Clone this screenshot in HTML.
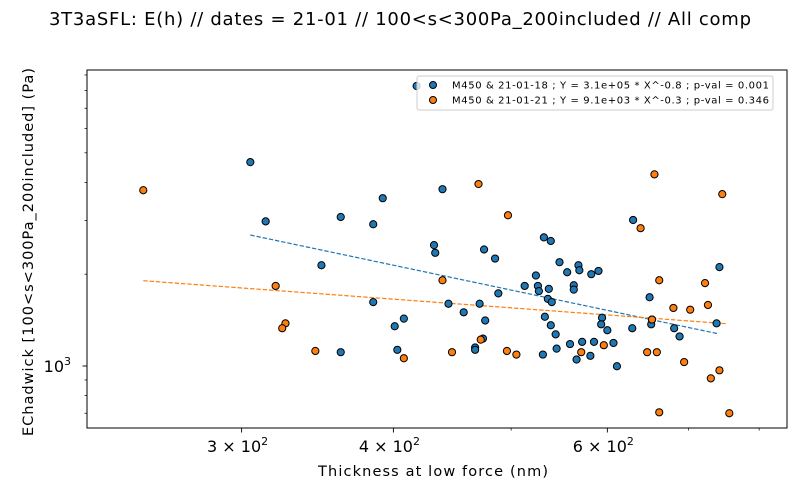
<!DOCTYPE html>
<html><head><meta charset="utf-8"><style>
body{margin:0;background:#fff}
svg{display:block;font-family:"DejaVu Sans","Liberation Sans",sans-serif}
</style></head><body>
<svg id="chart" width="800" height="500">
<rect width="800" height="500" fill="#fff"/>
<text x="400" y="25" text-anchor="middle" font-size="18" textLength="702">3T3aSFL: E(h) // dates = 21-01 // 100&lt;s&lt;300Pa_200included // All comp</text>
<g id="plot"></g>
<text x="433" y="476" text-anchor="middle" font-size="14.5" textLength="230">Thickness at low force (nm)</text>
<text transform="translate(33,252) rotate(-90)" text-anchor="middle" font-size="14.5" textLength="368">EChadwick [100&lt;s&lt;300Pa_200included]  (Pa)</text>
<g>
<rect x="417" y="76" width="356" height="34" rx="2" fill="#fff" fill-opacity="0.8" stroke="#ccc" stroke-width="1"/>
<circle cx="433" cy="85" r="3.5" fill="#1f77b4" stroke="#000" stroke-width="1"/>
<text x="452" y="88.5" font-size="10" textLength="317">M450 &amp; 21-01-18 ; Y = 3.1e+05 * X^-0.8 ; p-val = 0.001</text>
<circle cx="433" cy="100" r="3.5" fill="#ff7f0e" stroke="#000" stroke-width="1"/>
<text x="452" y="103.5" font-size="10" textLength="317">M450 &amp; 21-01-21 ; Y = 9.1e+03 * X^-0.3 ; p-val = 0.346</text>
</g>
</svg>
<script>
const blueX=[418,305,314,362,392,385,432,433,349,385,408,401,362,403,439,475,485,532,539,548,556,568,569,582,590,524,513,526,527,537,563,563,488,536,540,444,471,457,476,533,539,544,594,593,600,467,467,545,559,572,585,531,566,581,474,630,742,650,629,653,652,681,688,738,607,611];
const blueY=[8280,4660,2980,3080,3550,2915,2490,2350,2140,1620,1430,1350,1110,1130,3800,2410,2250,2640,2570,2190,2030,2140,2060,2000,2050,1980,1830,1830,1760,1790,1840,1780,1730,1660,1620,1600,1600,1500,1410,1450,1360,1270,1440,1370,1310,1150,1130,1140,1180,1200,1200,1090,1050,1080,1230,3010,2110,1680,1330,1420,1370,1330,1250,1380,1190,998];
const orangeX=[249,320,326,324,345,408,470,497,439,472,447,496,505,571,596,656,746,639,662,722,680,702,726,647,659,694,742,730,662,756,653];
const orangeY=[3770,1830,1380,1330,1120,1060,3950,3120,1910,1220,1110,1120,1090,1110,1170,4250,3660,2830,1910,1870,1550,1530,1585,1110,1110,1030,968,911,705,700,1420];
const blueFitX=[305,740];
const blueFitY=[2688,1276];
const orangeFitX=[249,752];
const orangeFitY=[1904,1376];
const xMajor=[300,400,600];
const xMajorLabels=["3","4","6"];
const xMinor=[500,700,800];
const yMajor=[1000];
const yMinor=[700,800,900,2000,3000,4000,5000,6000,7000,8000,9000];

const L=87,R=787,T=70,B=428;
function sx(v){return 241.6+1215*Math.log10(v/300);}
function sy(v){return 366-305*Math.log10(v/1000);}
const NS="http://www.w3.org/2000/svg";
const g=document.getElementById('plot');
function mk(tag,attrs,parent){const e=document.createElementNS(NS,tag);for(const k in attrs)e.setAttribute(k,attrs[k]);(parent||g).appendChild(e);return e;}

// fit lines
[[blueFitX,blueFitY,'#1f77b4','blue-fit-line'],[orangeFitX,orangeFitY,'#ff7f0e','orange-fit-line']].forEach(f=>{
  const ln=mk('line',{x1:sx(f[0][0]),y1:sy(f[1][0]),x2:sx(f[0][1]),y2:sy(f[1][1]),stroke:f[2],'stroke-width':1.2,'stroke-dasharray':'4.4,1.9'});
  
  
});
// points
blueX.forEach((x,i)=>{
  const c=mk('circle',{cx:sx(x),cy:sy(blueY[i]),r:3.6,fill:'#1f77b4',stroke:'#000','stroke-width':1});
  
  
});
orangeX.forEach((x,i)=>{
  const c=mk('circle',{cx:sx(x),cy:sy(orangeY[i]),r:3.6,fill:'#ff7f0e',stroke:'#000','stroke-width':1});
  
  
});
// frame
const fr=mk('rect',{x:L,y:T,width:R-L,height:B-T,fill:'none',stroke:'#000','stroke-width':1});


// x ticks
xMajor.forEach((v,i)=>{
  const x=sx(v);
  const t=mk('line',{x1:x,y1:B,x2:x,y2:B+4.5,stroke:'#000','stroke-width':0.9});
  
  
  const tx=mk('text',{x:x-4,y:B+24,'text-anchor':'middle','font-size':16});
  tx.textContent=xMajorLabels[i]+' \u00d7 10';
  const sp=mk('tspan',{dy:-7,'font-size':11},tx);sp.textContent='2';
  
  
});
xMinor.forEach(v=>{
  const x=sx(v);
  const t=mk('line',{x1:x,y1:B,x2:x,y2:B+2.5,stroke:'#000','stroke-width':0.7});
  
  
});
yMajor.forEach(v=>{
  const y=sy(v);
  const t=mk('line',{x1:L-4.5,y1:y,x2:L,y2:y,stroke:'#000','stroke-width':0.9});
  
  
  const tx=mk('text',{x:L-16,y:y+6,'text-anchor':'end','font-size':16});
  tx.textContent='10';
  const sp=mk('tspan',{dy:-7,'font-size':11},tx);sp.textContent='3';
  
  
});
yMinor.forEach(v=>{
  const y=sy(v);
  if(y<T||y>B)return;
  const t=mk('line',{x1:L-2.5,y1:y,x2:L,y2:y,stroke:'#000','stroke-width':0.7});
  
  
});
</script>
</body></html>
